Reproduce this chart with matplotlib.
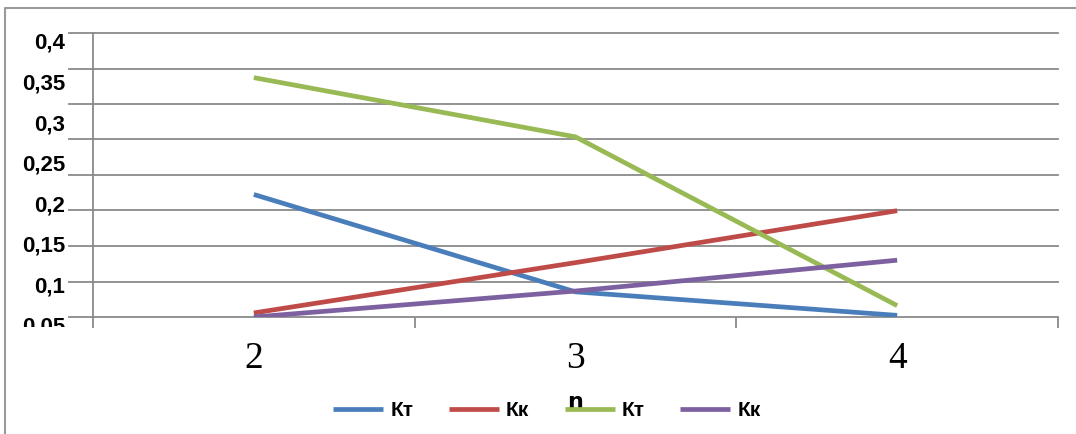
import numpy as np
import matplotlib
matplotlib.use("Agg")
import matplotlib.pyplot as plt
from matplotlib.lines import Line2D
from matplotlib.transforms import ScaledTranslation, Bbox

# data
n_values = [2, 3, 4]
kt_blue = [0.201, 0.081, 0.052]
kk_red = [0.055, 0.117, 0.181]
kt_green = [0.345, 0.272, 0.064]
kk_purple = [0.050, 0.082, 0.120]
y_labels = [0.4, 0.35, 0.3, 0.25, 0.2, 0.15, 0.1, 0.05]
series_names = ["Кт", "Кк", "Кт", "Кк"]

colors = ["#4A7EBB", "#BE4B48", "#98B954", "#7D60A0"]
grid_col = "#8a8a8a"

W, H = 1076, 434
fig = plt.figure(figsize=(W / 100, H / 100), dpi=100)
fig.patch.set_facecolor("white")

# outer frame (only top and left edges are visible in the picture)
fig.add_artist(Line2D([5 / W, 5 / W, 1.0], [0.0, 1 - 8 / H, 1 - 8 / H], transform=fig.transFigure,
                      color="#9a9a9a", linewidth=1.5))

ax = fig.add_axes([93 / W, (H - 317) / H, (1058 - 93) / W, (317 - 33) / H])
ax.set_xlim(1.5, 4.5)
ax.set_ylim(0.05, 0.4)

for vals, c, name in zip([kt_blue, kk_red, kt_green, kk_purple], colors, series_names):
    ax.plot(n_values, vals, color=c, linewidth=3.4, label=name, solid_capstyle="butt", zorder=3)

# horizontal grid (9 lines, as in the picture)
for g in np.linspace(0.05, 0.4, 9):
    ax.axhline(g, color=grid_col, linewidth=1.3, zorder=1, clip_on=False)
    ax.plot([-0.025, 0], [g, g], transform=ax.get_yaxis_transform(), color=grid_col,
            linewidth=1.3, clip_on=False)

for s in ["top", "right", "bottom"]:
    ax.spines[s].set_visible(False)
ax.spines["left"].set_color(grid_col)
ax.spines["left"].set_linewidth(1.3)

ax.set_yticks(y_labels)
ax.set_yticklabels([str(v).replace(".", ",") for v in y_labels],
                   fontsize=16, fontweight="bold", family="Liberation Sans")
ax.tick_params(axis="y", length=0, pad=20)
off = ScaledTranslation(0, -8 / 100, fig.dpi_scale_trans)
clip = Bbox([[0, H - 327], [W, H]])
for lab in ax.get_yticklabels():
    lab.set_transform(lab.get_transform() + off)
    lab.set_clip_on(True)
    lab.set_clip_box(clip)

ax.set_xticks(n_values)
ax.set_xticklabels([str(v) for v in n_values], fontsize=27, family="Liberation Serif")
ax.set_xticks([1.5, 2.5, 3.5, 4.5], minor=True)
ax.tick_params(axis="x", which="major", length=0, pad=18)
ax.tick_params(axis="x", which="minor", length=8, color=grid_col, width=1.3, direction="out")

ax.set_xlabel("n", fontsize=16, fontweight="bold", labelpad=11)

leg = fig.legend(loc="center", bbox_to_anchor=(547 / W, 1 - 411 / H), ncol=4,
                 frameon=False,
                 prop={"family": "Liberation Sans", "weight": "bold", "size": 15},
                 handlelength=2.4, handletextpad=0.35, columnspacing=1.7,
                 borderpad=0.1)
leg.set_zorder(10)

fig.savefig("out.png", dpi=100)
